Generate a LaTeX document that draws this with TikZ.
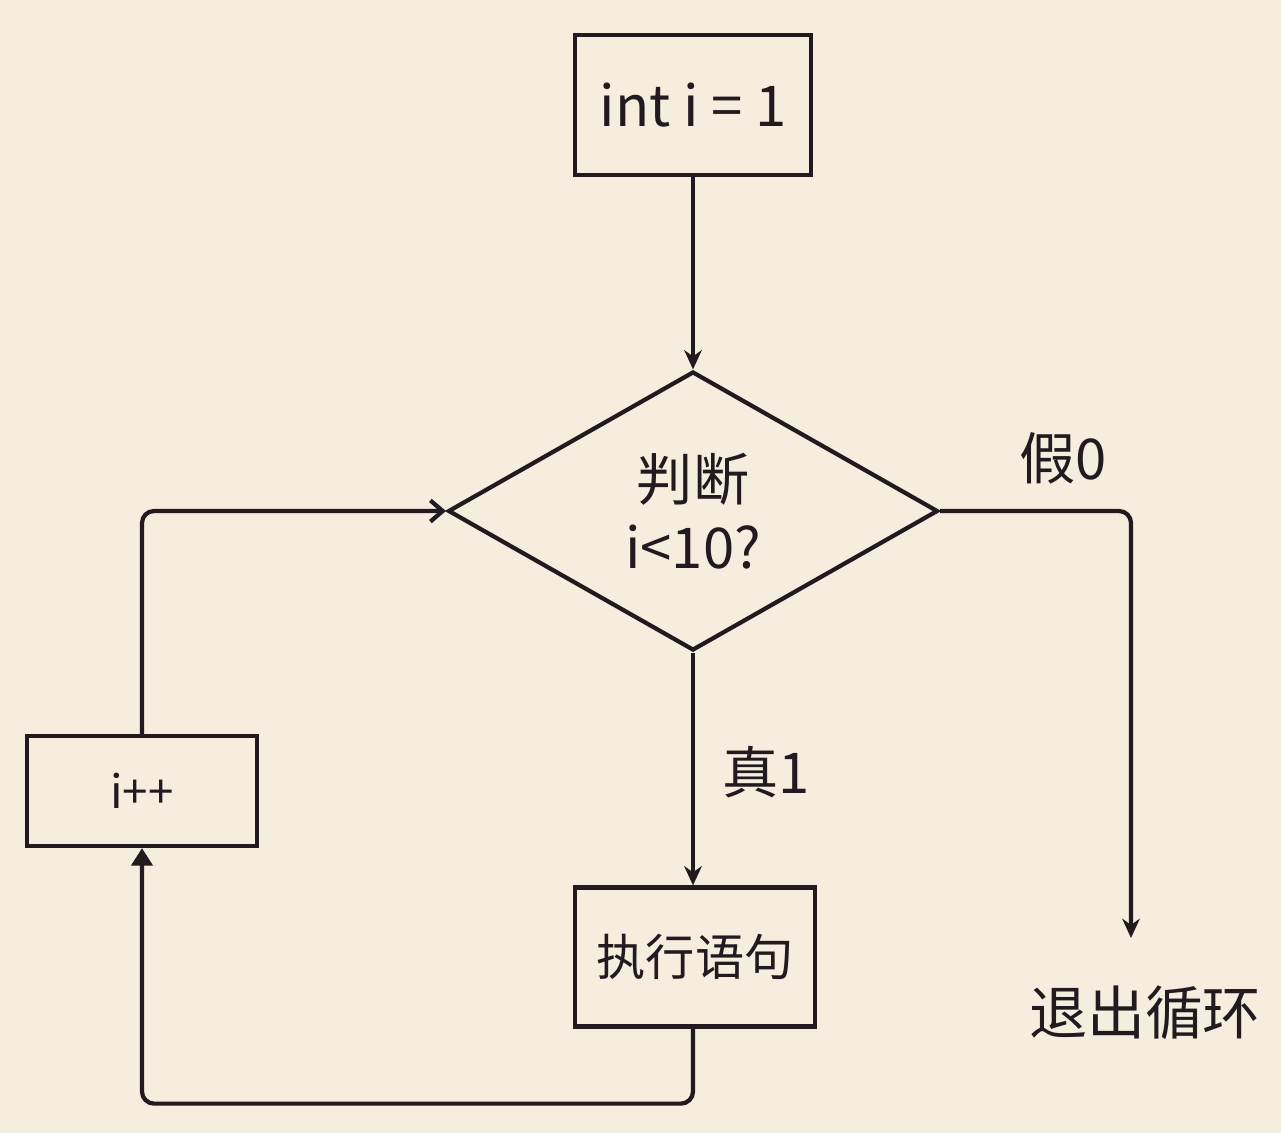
\documentclass[tikz,border=0pt]{standalone}
\usepackage{fontspec}
\setmainfont{Noto Sans CJK SC}
\usetikzlibrary{arrows.meta,shapes.geometric}
\definecolor{paper}{HTML}{F5EDDD}
\definecolor{ink}{HTML}{231A1F}

\begin{document}
\begin{tikzpicture}[x=0.02cm,y=-0.02cm,
    box/.style={draw=ink,line width=2.4pt,inner sep=0pt,text=ink},
    decision/.style={diamond,draw=ink,line width=2.4pt,minimum width=9.8cm,minimum height=5.58cm,inner sep=0pt,align=center,text=ink},
    lab/.style={text=ink,inner sep=0pt},
    flow/.style={draw=ink,line width=2.4pt,rounded corners=0.24cm},
    big/.style={font=\fontsize{32}{38.5}\selectfont},
    mid/.style={font=\fontsize{28}{34}\selectfont}]
    \useasboundingbox (0,0) rectangle (1281,1133);
    \fill[paper] (0,0) rectangle (1281,1133);

    % blocks
    \node[box,big,minimum width=4.72cm,minimum height=2.8cm] (init) at (693,105) {int i = 1};
    \node[decision,big] (judge) at (693,511) {判断\\i<10?};
    \node[box,mid,minimum width=4.8cm,minimum height=2.78cm] (exec) at (695,957) {执行语句};
    \node[box,font=\fontsize{26}{30}\selectfont,minimum width=4.6cm,minimum height=2.2cm] (inc) at (142,791) {i++};
    \coordinate (exitend) at (1131,938);

    % labels
    \node[lab,big] (false) at (1063,458) {假0};
    \node[lab,big] (true) at (766,772) {真1};
    \node[lab,font=\fontsize{33}{40}\selectfont] (quit) at (1145,1013) {退出循环};

    % connectors
    \draw[flow,-{Stealth[length=11pt,width=10pt]}] (init) -- (judge.north);
    \draw[flow,-{Stealth[length=11pt,width=10pt]}] (judge.south) -- (judge.south |- exec.north);
    \draw[flow,-{Stealth[length=11pt,width=10pt]}] (judge.east) -| (exitend);
    \draw[flow,-{Triangle[length=10pt,width=12pt]}] (judge.south |- exec.south) -- ++(0,75) -| (inc.south);
    \draw[flow,-{Straight Barb[length=7pt,width=12pt]}] (inc.north) |- (judge.west);
\end{tikzpicture}
\end{document}
